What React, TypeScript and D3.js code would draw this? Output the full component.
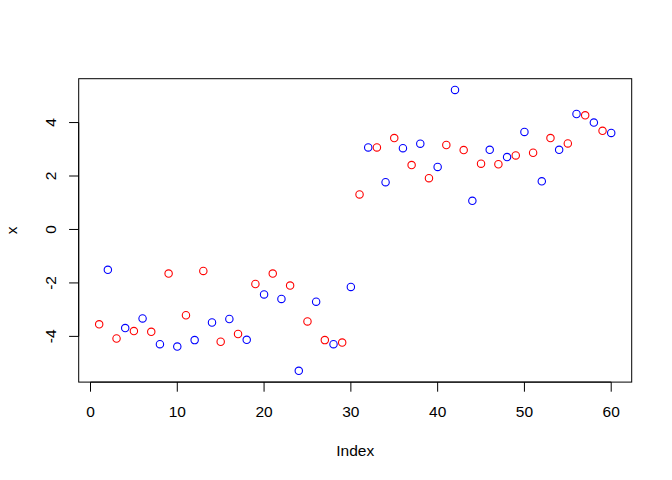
import React from "react";
import * as d3 from "d3";

const values: number[] = [
  -3.55, -1.51, -4.08, -3.69, -3.80, -3.33, -3.83, -4.29, -1.65, -4.38,
  -3.21, -4.14, -1.55, -3.48, -4.20, -3.35, -3.91, -4.13, -2.04, -2.43,
  -1.65, -2.60, -2.10, -5.29, -3.44, -2.70, -4.14, -4.29, -4.23, -2.15,
  1.31, 3.07, 3.07, 1.77, 3.42, 3.04, 2.41, 3.21, 1.92, 2.34,
  3.16, 5.22, 2.97, 1.07, 2.46, 2.98, 2.44, 2.71, 2.77, 3.65,
  2.87, 1.80, 3.42, 2.98, 3.22, 4.32, 4.27, 4.00, 3.69, 3.61,
];
const pointColors: string[] = ["#FF0000", "#0000FF"];
const xTicks: number[] = [0, 10, 20, 30, 40, 50, 60];
const yTicks: number[] = [-4, -2, 0, 2, 4];
const xLabel = "Index";
const yLabel = "x";

const W = 672;
const H = 480;
const left = 78.7;
const right = 631.7;
const top = 78.7;
const bottom = 382.1;

export default function App() {
  const idx = values.map((_, i) => i + 1);
  const [xmin, xmax] = d3.extent(idx) as [number, number];
  const [ymin, ymax] = d3.extent(values) as [number, number];
  const xpad = (xmax - xmin) * 0.04;
  const ypad = (ymax - ymin) * 0.04;
  const x = d3.scaleLinear().domain([xmin - xpad, xmax + xpad]).range([left, right]);
  const y = d3.scaleLinear().domain([ymin - ypad, ymax + ypad]).range([bottom, top]);
  const font = "'Liberation Sans', Arial, Helvetica, sans-serif";
  const fs = 15.5;
  return (
    <svg width={W} height={H} style={{ position: "absolute", left: 0, top: 0, background: "#fff" }}>
      <rect x={0} y={0} width={W} height={H} fill="#fff" />
      <rect x={left} y={top} width={right - left} height={bottom - top} fill="none" stroke="#000" strokeWidth={1} />
      {/* x axis */}
      <line x1={x(xTicks[0])} x2={x(xTicks[xTicks.length - 1])} y1={bottom} y2={bottom} stroke="#000" />
      {xTicks.map((t) => (
        <g key={"xt" + t}>
          <line x1={x(t)} x2={x(t)} y1={bottom} y2={bottom + 9.6} stroke="#000" />
          <text x={x(t)} y={417.3} textAnchor="middle" fontFamily={font} fontSize={fs} fill="#000">
            {t}
          </text>
        </g>
      ))}
      {/* y axis */}
      <line x1={left} x2={left} y1={y(yTicks[0])} y2={y(yTicks[yTicks.length - 1])} stroke="#000" />
      {yTicks.map((t) => (
        <g key={"yt" + t}>
          <line x1={left - 9.6} x2={left} y1={y(t)} y2={y(t)} stroke="#000" />
          <text
            transform={`translate(56,${y(t)}) rotate(-90)`}
            textAnchor="middle"
            fontFamily={font}
            fontSize={fs}
            fill="#000"
          >
            {t}
          </text>
        </g>
      ))}
      <text x={(left + right) / 2} y={456} textAnchor="middle" fontFamily={font} fontSize={fs} fill="#000">
        {xLabel}
      </text>
      <text
        transform={`translate(16.7,${(top + bottom) / 2}) rotate(-90)`}
        textAnchor="middle"
        fontFamily={font}
        fontSize={fs}
        fill="#000"
      >
        {yLabel}
      </text>
      {values.map((v, i) => (
        <circle
          key={i}
          cx={x(i + 1)}
          cy={y(v)}
          r={3.7}
          fill="none"
          stroke={pointColors[i % 2]}
          strokeWidth={1.1}
        />
      ))}
    </svg>
  );
}
